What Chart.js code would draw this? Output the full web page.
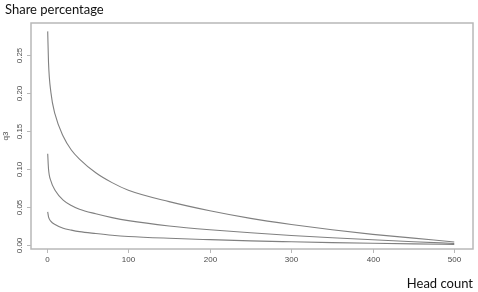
<!DOCTYPE html>
<html>
<head>
<meta charset="utf-8">
<title>Share percentage</title>
<script src="https://cdn.jsdelivr.net/npm/chart.js@4.4.1/dist/chart.umd.min.js"></script>
<style>
  body { margin: 0; background: #fff; }
  canvas { display: block; }
</style>
</head>
<body>
<canvas id="shareChart" width="478" height="292"></canvas>
<script>
// values
const headCount   = [1, 2, 5, 10, 20, 30, 40, 60, 80, 100, 150, 200, 250, 300, 350, 400, 450, 500];
const upperShare  = [0.281, 0.240, 0.200, 0.172, 0.143, 0.125, 0.113, 0.095, 0.082, 0.072, 0.057, 0.045, 0.035, 0.027, 0.020, 0.014, 0.009, 0.004];
const middleShare = [0.120, 0.100, 0.084, 0.072, 0.059, 0.052, 0.047, 0.041, 0.036, 0.032, 0.025, 0.020, 0.016, 0.0125, 0.0095, 0.0068, 0.0043, 0.002];
const lowerShare  = [0.0435, 0.037, 0.031, 0.027, 0.022, 0.0195, 0.0175, 0.015, 0.0128, 0.0112, 0.0088, 0.0070, 0.0054, 0.0042, 0.0031, 0.0022, 0.0014, 0.0007];
const xTicks = [0, 100, 200, 300, 400, 500];
const yTicks = [0, 0.05, 0.10, 0.15, 0.20, 0.25];
const yTickLabels = ['0.00', '0.05', '0.10', '0.15', '0.20', '0.25'];

function toPoints(values) {
    return headCount.map((x, i) => ({ x: x, y: values[i] }));
}

function curve(values) {
    return {
        data: toPoints(values),
        borderColor: '#808080',
        borderWidth: 1.1,
        pointRadius: 0,
        fill: false,
        tension: 0.4,
        cubicInterpolationMode: 'monotone'
    };
}

// R style frame: box, outward ticks, rotated y labels, titles
const rFrame = {
    id: 'rFrame',
    afterDraw(chart) {
        const ctx = chart.ctx;
        const area = chart.chartArea;
        const xs = chart.scales.x;
        const ys = chart.scales.y;
        ctx.save();

        ctx.strokeStyle = '#b8b8b8';
        ctx.lineWidth = 1.5;
        ctx.strokeRect(area.left, area.top, area.right - area.left, area.bottom - area.top);

        ctx.lineWidth = 1;
        ctx.fillStyle = '#4a4a4a';
        ctx.font = '8px "Liberation Sans", Arial, sans-serif';
        ctx.textAlign = 'center';
        ctx.textBaseline = 'middle';
        xTicks.forEach(v => {
            const px = Math.round(xs.getPixelForValue(v)) + 0.5;
            ctx.beginPath();
            ctx.moveTo(px, area.bottom);
            ctx.lineTo(px, area.bottom + 4);
            ctx.stroke();
            ctx.fillText(String(v), px, area.bottom + 11);
        });

        yTicks.forEach((v, i) => {
            const py = Math.round(ys.getPixelForValue(v)) + 0.5;
            ctx.beginPath();
            ctx.moveTo(area.left, py);
            ctx.lineTo(area.left - 4, py);
            ctx.stroke();
            ctx.save();
            ctx.translate(area.left - 11, py);
            ctx.rotate(-Math.PI / 2);
            ctx.fillText(yTickLabels[i], 0, 0);
            ctx.restore();
        });

        // y axis title
        ctx.save();
        ctx.translate(6, (area.top + area.bottom) / 2);
        ctx.rotate(-Math.PI / 2);
        ctx.fillText('q3', 0, 0);
        ctx.restore();

        // titles
        ctx.fillStyle = '#111';
        ctx.font = '13px Lato, "Open Sans", sans-serif';
        ctx.textAlign = 'left';
        ctx.fillText('Share percentage', 5, 10);
        ctx.textAlign = 'right';
        ctx.fillText('Head count', 473, 284);
        ctx.restore();
    }
};

const ctx = document.getElementById('shareChart').getContext('2d');
new Chart(ctx, {
    type: 'line',
    data: {
        datasets: [curve(upperShare), curve(middleShare), curve(lowerShare)]
    },
    options: {
        responsive: false,
        animation: false,
        events: [],
        layout: { padding: { top: 23, right: 5, left: 0, bottom: 0 } },
        plugins: { legend: { display: false }, tooltip: { enabled: false } },
        scales: {
            x: {
                type: 'linear',
                min: -19.5,
                max: 523,
                grid: { display: false },
                border: { display: false },
                ticks: { display: false },
                afterFit(scale) { scale.height = 43; }
            },
            y: {
                min: -0.0053,
                max: 0.292,
                grid: { display: false },
                border: { display: false },
                ticks: { display: false },
                afterFit(scale) { scale.width = 31; }
            }
        }
    },
    plugins: [rFrame]
});
</script>
</body>
</html>
